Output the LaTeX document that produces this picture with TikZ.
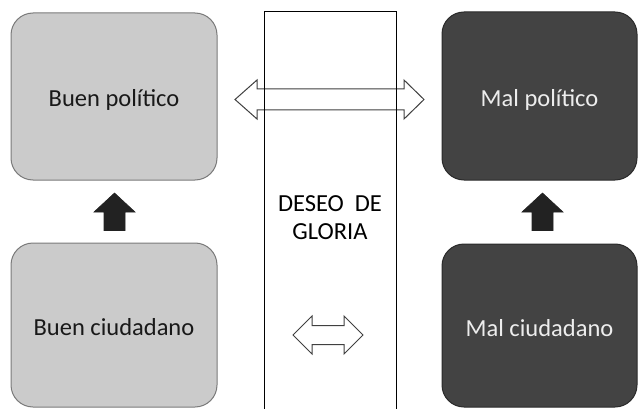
\documentclass[tikz,border=0pt]{standalone}
\usepackage{fontspec}
\setmainfont{Carlito}
\usetikzlibrary{calc}
\definecolor{lightbox}{HTML}{CBCBCB}
\definecolor{lightedge}{HTML}{7A7A7A}
\definecolor{darkbox}{HTML}{434343}
\definecolor{darkedge}{HTML}{2A2A2A}
\definecolor{darktext}{HTML}{EDEDED}
\definecolor{arrowfill}{HTML}{222222}
\tikzset{
  boxbase/.style={rectangle, rounded corners=22pt, line width=1pt, inner sep=0pt,
    font=\fontsize{24.5}{28}\selectfont, align=center, text height=21pt, text depth=0pt},
  lightnode/.style={boxbase, fill=lightbox, draw=lightedge, text=black!90},
  darknode/.style={boxbase, fill=darkbox, draw=darkedge, text=darktext},
  uparrow/.style={fill=arrowfill, draw=arrowfill, line width=0.6pt, line join=miter},
  hollowarrow/.style={fill=white, draw=black!75, line width=1pt, line join=miter},
  barline/.style={draw=black, line width=1pt}
}
\begin{document}
\begin{tikzpicture}[x=1pt,y=-1pt]
\useasboundingbox (0,0) rectangle (640,409);
% boxes
\node[lightnode, minimum width=206pt, minimum height=167pt] (bp) at (114,96.5) {Buen político};
\node[lightnode, minimum width=206pt, minimum height=164pt] (bc) at (114,325) {Buen ciudadano};
\node[darknode, minimum width=195pt, minimum height=168pt] (mp) at (539.5,96) {Mal político};
\node[darknode, minimum width=195pt, minimum height=163pt] (mc) at (539.5,325.5) {Mal ciudadano};
% big double arrow
\coordinate (bl) at (235,99.5);
\coordinate (br) at (424,99.5);
\draw[hollowarrow] (bl) -- ++(22,-19.5) -- ++(0,9) -- ($(br)+(-20,-10.5)$) -- ++(0,-9) -- (br)
  -- ++(-20,19.5) -- ++(0,-9) -- ($(bl)+(22,10.5)$) -- ++(0,9) -- cycle;
% central bar
\coordinate (gtl) at (264,12);
\coordinate (gtr) at (396,12);
\draw[barline] (264,412) -- (gtl) -- (gtr) -- (396,412);
\node[font=\fontsize{24.5}{28}\selectfont, align=center] (glory) at (330,218) {DESEO\ \ DE\\GLORIA};
% small double arrow
\coordinate (sl) at (293,335);
\coordinate (sr) at (363,335);
\draw[hollowarrow] (sl) -- ++(19,-19) -- ++(0,9.5) -- ($(sr)+(-19,-9.5)$) -- ++(0,-9.5) -- (sr)
  -- ++(-19,19) -- ++(0,-9.5) -- ($(sl)+(19,9.5)$) -- ++(0,9.5) -- cycle;
% up arrows
\coordinate (la) at (114.5,193);
\draw[uparrow] (la) -- ++(20.5,19) -- ++(-10,0) -- ++(0,18.5) -- ++(-21,0) -- ++(0,-18.5) -- ++(-10,0) -- cycle;
\coordinate (ra) at (542.5,193);
\draw[uparrow] (ra) -- ++(20.5,19) -- ++(-10,0) -- ++(0,18.5) -- ++(-21,0) -- ++(0,-18.5) -- ++(-10,0) -- cycle;
\end{tikzpicture}
\end{document}
